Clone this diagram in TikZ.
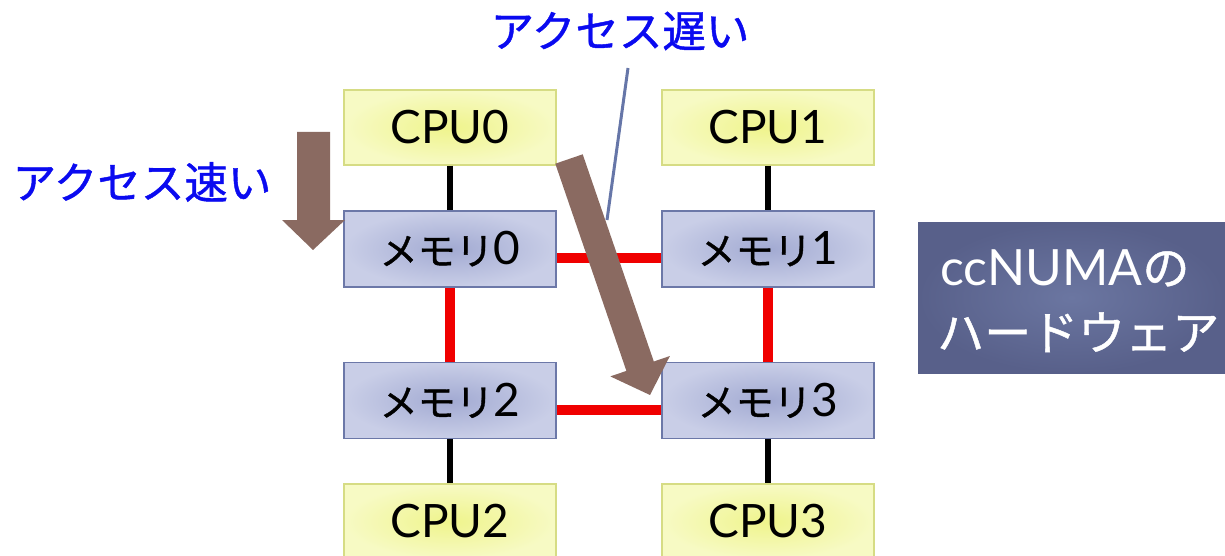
\documentclass[tikz,border=0pt]{standalone}
\usepackage{fontspec}
\newfontfamily\jp[FakeBold=1]{Noto Sans CJK JP}
\newfontfamily\lat{Lato}
\definecolor{cpuin}{HTML}{EFF48C}
\definecolor{cpuout}{HTML}{F7FAC4}
\definecolor{cpuborder}{HTML}{D6DC84}
\definecolor{memin}{HTML}{A2AAD2}
\definecolor{memout}{HTML}{C9CEE7}
\definecolor{memborder}{HTML}{6C78A8}
\definecolor{titlein}{HTML}{6B76A1}
\definecolor{titleout}{HTML}{58608A}
\definecolor{arrowbrown}{HTML}{8A6A61}
\definecolor{labelblue}{HTML}{0A0AF0}
\definecolor{pointer}{HTML}{6676A8}
\definecolor{linkred}{HTML}{F00000}
\newcommand\memtxt[1]{{\jp\fontsize{38}{40}\selectfont メモリ}#1}
\begin{document}
\begin{tikzpicture}[x=1pt,y=-1pt,
  cpubox/.style={draw=cpuborder, line width=1.5pt, inner color=cpuin, outer color=cpuout,
    minimum width=212pt, minimum height=75pt, inner sep=0pt, font=\fontsize{46}{50}\selectfont\lat},
  membox/.style={draw=memborder, line width=1.5pt, inner color=memin, outer color=memout,
    minimum width=212pt, minimum height=76pt, inner sep=0pt, font=\fontsize{46}{50}\selectfont\lat},
  busline/.style={line width=5.5pt, black},
  redlink/.style={line width=10pt, linkred},
  bluelabel/.style={text=labelblue, font=\fontsize{43.5}{46}\selectfont\jp, inner sep=0pt},
  blockarrow/.style={fill=arrowbrown, draw=none},
  titletext/.style={text=white, inner sep=0pt, anchor=base west}
]
\useasboundingbox (0,0) rectangle (1225,556);

% boxes
\node[cpubox] (cpu0) at (450,127.5) {CPU0};
\node[cpubox] (cpu1) at (768,127.5) {CPU1};
\node[membox] (mem0) at (450,249) {\memtxt{0}};
\node[membox] (mem1) at (768,249) {\memtxt{1}};
\node[membox] (mem2) at (450,400.5) {\memtxt{2}};
\node[membox] (mem3) at (768,400.5) {\memtxt{3}};
\node[cpubox] (cpu2) at (450,521.5) {CPU2};
\node[cpubox] (cpu3) at (768,521.5) {CPU3};

% connectors
\draw[busline] (cpu0) -- (mem0);
\draw[busline] (cpu1) -- (mem1);
\draw[busline] (mem2) -- (cpu2);
\draw[busline] (mem3) -- (cpu3);
\draw[redlink] ([yshift=-9pt]mem0.east) -- ([yshift=-9pt]mem1.west);
\draw[redlink] ([yshift=-9pt]mem2.east) -- ([yshift=-9pt]mem3.west);
\draw[redlink] (mem0) -- (mem2);
\draw[redlink] (mem1) -- (mem3);

% labels
\node[bluelabel] (fast) at (142,182) {アクセス速い};
\node[bluelabel] (slow) at (620,31) {アクセス遅い};
\coordinate (ptrtop) at (628,68);
\coordinate (ptr) at (607,220);
\draw[pointer, line width=3pt] (ptrtop) -- (ptr);

% block arrows
\fill[blockarrow] (297,132) -- (330,132) -- (330,220) -- (345,220) -- (313,250) -- (282,220) -- (297,220) -- cycle;
\fill[blockarrow] (555.3,163.7) -- (582.7,154.3) -- (653.8,361.5) -- (669.9,356.0) -- (650,395) -- (610.3,376.4) -- (626.4,370.9) -- cycle;

% title box
\node[draw=none, inner color=titlein, outer color=titleout, minimum width=307pt, minimum height=151pt, inner sep=0pt] (title) at (1071.5,297.5) {};
\node[titletext] (t1) at (940,285) {\fontsize{50}{54}\selectfont\lat ccNUMA{\jp\fontsize{47}{50}\selectfont の}};
\node[titletext] (t2) at (937,350) {\jp\fontsize{47}{50}\selectfont ハードウェア};
\end{tikzpicture}
\end{document}
